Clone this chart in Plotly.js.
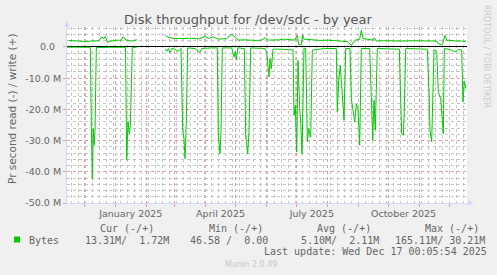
<!DOCTYPE html>
<html><head><meta charset="utf-8">
<script src="https://cdn.plot.ly/plotly-3.0.1.min.js"></script>
<style>html,body{margin:0;padding:0;background:#f0f0f0;}</style>
</head><body><div id="chart" style="width:497px;height:275px;"></div>
<script>
// ---- data (days since 2025-01-01, values in millions of bytes/s) ----
const ORIGIN_UTC = Date.UTC(2025, 0, 1);
const writeDay = [-46.6,-43,-40,-36.5,-33.3,-30.5,-28.3,-25,-21.6,-19,
  -16.6,-13.3,-11.6,-10,-7.6,-5.5,-3.3,0,3.4,5.5,
  7.7,10.7,13.5,16.7,19,21.7,35,50.5,54.7,59.7,
  64,69.7,74.5,79.7,84.5,89.7,93,98,103,107,
  111.4,116.4,119.7,123,128,132,136.4,141,146.4,149.7,
  153,159.4,164,169.4,174,179.4,182,183.4,186,187.4,
  188.7,194,199.4,205,212.7,219,226,232.7,236,240,
  244.4,246,247.7,252,257.7,258.7,261.4,268,274.7,281,
  288,296,304.7,312,321.4,323,326.4,328,329.4,331.4,
  336,341.4,346,350.4];
const writeM = [2.1,2.0,1.9,1.8,1.6,1.7,1.7,1.9,2.0,2.1,
  2.0,3.3,2.6,3.4,1.4,1.8,2.0,2.1,2.2,2.0,
  3.3,2.2,2.1,1.9,2.1,2.3,null,3.6,2.9,2.7,
  2.6,2.7,2.8,2.7,2.6,3.4,2.7,3.2,2.5,2.6,
  2.7,4.1,3.0,2.2,2.3,2.2,2.2,2.1,2.2,3.0,
  2.2,2.2,2.3,2.5,2.3,2.2,3.7,0.7,0.7,3.9,
  2.5,2.3,2.2,2.1,2.2,2.1,2.0,1.7,0.5,2.2,
  2.5,5.3,2.7,2.4,2.2,2.9,1.9,2.0,1.9,2.0,
  1.9,2.0,1.9,2.0,1.9,1.0,0.7,1.6,3.7,2.2,
  2.0,1.9,1.9,1.72];
const readDay = [-48.3,-35.3,-25,-24,-23,-22,-21.3,-20.3,-19,-5.3,
  10.2,11.4,12.7,14,15,17,21.7,35,49.7,51.4,
  53,54.7,56.4,59.7,63,65.7,67.4,68.7,69.7,71,
  72.4,79.7,84.7,86.4,96.4,102,103,104.7,105.7,107,
  116.4,118.7,120,121,122.4,129,130.4,132.4,133.7,135.4,
  149.7,151.4,153.7,154.7,156,157.7,166,176,177.7,178.7,
  180,181.4,182.7,184.4,185.4,186.7,188.7,190.4,192,193.4,
  195.4,197,209.4,221,222,223.4,225,226.7,228.7,230.4,
  234.7,236,237.7,239.4,241,242.7,244.4,246,254.4,255.7,
  257.4,258.7,260,262,274.7,284,285.4,286.4,288,289,
  290.4,301.4,312,313.7,314.7,316.4,317.7,318.7,321.4,323,
  325.4,328,329,334.7,339.7,343,346.4,347.7,349,350.4];
const readM = [-0.05,-0.1,-0.1,-24.0,-42.2,-26.2,-31.5,-27,-0.2,-0.1,
  -0.1,-36.3,-24,-27.8,-25.5,-0.1,-0.1,null,-0.7,-1.4,
  -0.5,-1.8,-0.5,-0.7,-1.4,-0.5,-26.7,-29.4,-35.8,-24,
  -0.3,-0.5,-1.8,-0.5,-0.3,-0.3,-28.3,-34.2,-27,-0.3,
  -0.3,-3.2,-1.5,-4.0,-0.3,-0.5,-28.3,-34.2,-27,-0.3,
  -0.5,-1.7,-9.6,-3.7,-7.0,-0.7,-0.7,-1.0,-1.0,-21.9,
  -18.7,-33.7,-4.3,-19.7,-24,-34.2,-0.3,-0.5,-30.4,-26.2,
  -28.9,-1.0,-0.5,-0.5,-20.8,-10.7,-5.9,-13.9,-23.5,-0.5,
  -0.5,-16.6,-20.8,-24,-18.3,-19.7,-31.5,-0.5,-0.5,-16.6,
  -29.9,-17.1,-26.7,-0.5,-0.5,-0.7,-17.1,-27.8,-28.3,-20.8,
  -0.5,-0.5,-0.7,-14.4,-26.7,-30.4,-13.4,-0.8,-1.4,-14.4,
  -16.6,-27.8,-0.5,-0.8,-1.6,-0.8,-1.0,-17.6,-11,-13.31];
const yTickVals = [0,-10,-20,-30,-40,-50];
const yTickText = ['0.0\u00a0\u00a0','-10.0 M','-20.0 M','-30.0 M','-40.0 M','-50.0 M'];
const xTickVals = ['2025-01-16 12:00','2025-04-16 06:00','2025-07-16 12:00','2025-10-16 06:00'];
const xTickText = ['January 2025','April 2025','July 2025','October 2025'];
const seriesName = 'Bytes';
const legendHeads = ['Cur (-/+)','Min (-/+)','Avg (-/+)','Max (-/+)'];
const legendVals = ['13.31M/\u00a0\u00a01.72M','46.58 /\u00a0\u00a00.00','5.10M/\u00a0\u00a02.11M','165.11M/\u00a030.21M'];
const lastUpdate = 'Last update: Wed Dec 17 00:05:54 2025';
const titleText = 'Disk throughput for /dev/sdc - by year';
const yTitle = 'Pr second read (-) / write (+)';

function dayToDate(d){
  return new Date(ORIGIN_UTC + d*86400000).toISOString().replace('T',' ').replace('Z','');
}
const X_RANGE = ['2024-11-13 16:48','2025-12-18 16:48'];

const L=67, T=27, W=400, H=176;
const px = x => (x-L)/W;
const py = y => (T+H-y)/H;

const GREEN = '#00cc00';
const MAJ = '#e69a9a';
const MIN = '#c4c4c4';
const TXT = '#666666';
const MONO = 'DejaVu Sans Mono';

const traces = [
  {x: writeDay.map(dayToDate), y: writeM, type:'scatter', mode:'lines',
   line:{color:GREEN, width:1}, connectgaps:false, hoverinfo:'skip', xaxis:'x', yaxis:'y'},
  {x: readDay.map(dayToDate), y: readM, type:'scatter', mode:'lines',
   line:{color:GREEN, width:1}, connectgaps:false, hoverinfo:'skip', xaxis:'x2', yaxis:'y'}
];

const ann = [];
const headX = [98,207,315,422.7];
const valX = [83,187.7,299,392.7];
legendHeads.forEach((t,i)=>ann.push({text:t, x:px(headX[i]), y:py(228)}));
legendVals.forEach((t,i)=>ann.push({text:t, x:px(valX[i]), y:py(240)}));
ann.push({text:seriesName, x:px(26.7), y:py(240)});
ann.push({text:lastUpdate, x:px(261.7), y:py(251.5)});
ann.forEach(a=>Object.assign(a,{xref:'paper',yref:'paper',xanchor:'left',yanchor:'middle',showarrow:false,
  font:{family:MONO,size:10,color:TXT}}));
ann.push({text:'Munin 2.0.49', x:px(222.7), y:py(264), xref:'paper', yref:'paper', xanchor:'left', yanchor:'middle',
  showarrow:false, font:{family:'DejaVu Sans', size:8, color:'#c8c8c8'}});
ann.push({text:'RRDTOOL / TOBI OETIKER', x:px(487), y:py(56), xref:'paper', yref:'paper', xanchor:'center', yanchor:'middle',
  textangle:90, showarrow:false, font:{family:'DejaVu Sans', size:8, color:'#cccccc'}});
ann.push({text:yTitle, x:px(12), y:py(109), xref:'paper', yref:'paper', xanchor:'center', yanchor:'middle',
  textangle:-90, showarrow:false, font:{family:'DejaVu Sans', size:10.5, color:TXT}});
ann.push({text:'\u25B2', x:px(66.7), y:py(23.5), xref:'paper', yref:'paper', xanchor:'center', yanchor:'middle',
  showarrow:false, font:{family:'DejaVu Sans', size:7, color:'#cfd6f8'}});
ann.push({text:'\u25B6', x:px(470.5), y:py(203), xref:'paper', yref:'paper', xanchor:'center', yanchor:'middle',
  showarrow:false, font:{family:'DejaVu Sans', size:7, color:'#cfd6f8'}});

const layout = {
  width:497, height:275,
  paper_bgcolor:'#f0f0f0', plot_bgcolor:'#ffffff',
  margin:{l:L, r:497-L-W, t:T, b:275-T-H, pad:0},
  showlegend:false,
  font:{family:'DejaVu Sans', size:9.5, color:TXT},
  title:{text:titleText, font:{family:'DejaVu Sans', size:13, color:'#555555'},
    xref:'container', x:248/497, xanchor:'center', yref:'container', y:1-19/275, yanchor:'middle'},
  xaxis:{type:'date', range:X_RANGE, tickmode:'array', tickvals:xTickVals, ticktext:xTickText,
    showgrid:false, ticks:'', ticklabelstandoff:2,
    tickfont:{family:'DejaVu Sans', size:9.5, color:TXT},
    showline:true, linecolor:'#cfd6f8', linewidth:1, zeroline:false, fixedrange:true,
    minor:{tickmode:'linear', tick0:'2024-12-01', dtick:'M1', showgrid:true, gridcolor:MAJ, griddash:'dot', gridwidth:1,
      ticks:'outside', ticklen:3, tickcolor:MAJ, tickwidth:1}},
  xaxis2:{type:'date', range:X_RANGE, overlaying:'x', side:'bottom', showticklabels:false,
    tickmode:'linear', tick0:'2024-11-18', dtick:7*86400000,
    showgrid:true, gridcolor:MIN, griddash:'dot', gridwidth:1, ticks:'', zeroline:false, showline:false, fixedrange:true},
  yaxis:{range:[-50,6.4], tickmode:'array', tickvals:yTickVals, ticktext:yTickText,
    showgrid:true, gridcolor:MAJ, griddash:'dot', gridwidth:1,
    ticks:'outside', ticklen:3, tickcolor:MAJ, tickwidth:1,
    zeroline:true, zerolinecolor:'#000000', zerolinewidth:1,
    showline:true, linecolor:'#cfd6f8', linewidth:1, fixedrange:true,
    tickfont:{family:'DejaVu Sans', size:9.5, color:TXT},
    minor:{tickmode:'linear', tick0:0, dtick:2, showgrid:true, gridcolor:MIN, griddash:'dot', gridwidth:1, ticks:''}},
  annotations: ann,
  shapes:[{type:'rect', xref:'paper', yref:'paper', x0:px(14), x1:px(20), y0:py(242.5), y1:py(236.5),
    fillcolor:GREEN, line:{width:0}}]
};

Plotly.newPlot('chart', traces, layout, {staticPlot:true, displayModeBar:false});
</script>
</body></html>
